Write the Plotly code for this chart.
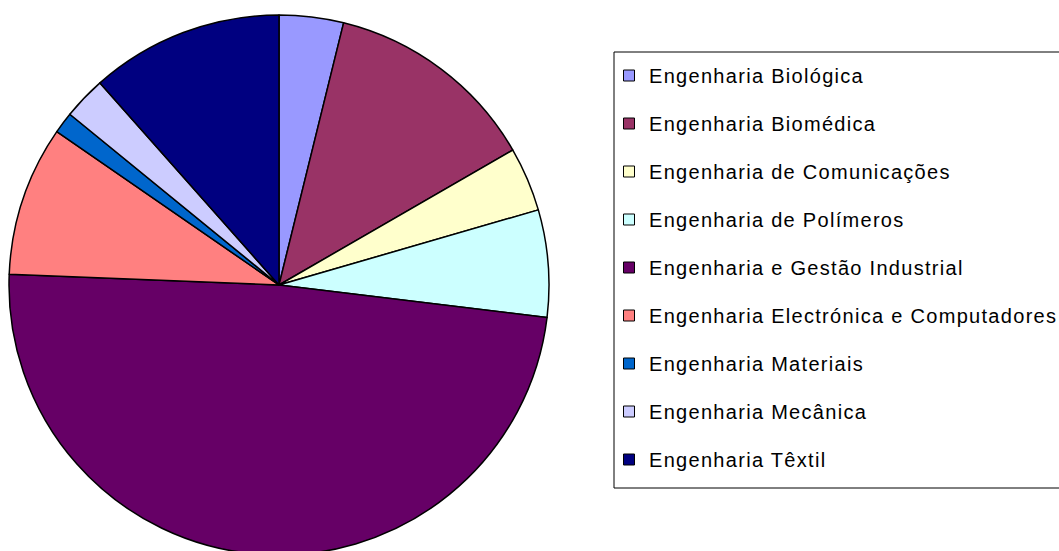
import plotly.graph_objects as go

labels = [
    "Engenharia Biológica",
    "Engenharia Biomédica",
    "Engenharia de Comunicações",
    "Engenharia de Polímeros",
    "Engenharia e Gestão Industrial",
    "Engenharia Electrónica e Computadores",
    "Engenharia Materiais",
    "Engenharia Mecânica",
    "Engenharia Têxtil",
]
values = [3, 10, 3, 5, 38, 7, 1, 2, 9]
colors = ["#9999FF", "#993366", "#FFFFCC", "#CCFFFF", "#660066",
          "#FF8080", "#0066CC", "#CCCCFF", "#000080"]

W, H = 1059, 560
FONT = "Liberation Sans, Arial, sans-serif"

fig = go.Figure()
fig.add_trace(go.Pie(
    labels=labels, values=values, sort=False, direction="clockwise", rotation=0,
    marker=dict(colors=colors, line=dict(color="black", width=1.5)),
    textinfo="none", showlegend=False,
    domain=dict(x=[9 / W, 549 / W], y=[(H - 555) / H, (H - 15) / H]),
))
for i, (lab, col) in enumerate(zip(labels, colors)):
    fig.add_trace(go.Scatter(
        x=[None], y=[None], mode="markers", name=lab, legendgroup=str(i),
        marker=dict(symbol="square", size=11, color=col, line=dict(color="black", width=1)),
    ))

fig.add_shape(type="rect", xref="paper", yref="paper",
              x0=614 / W, x1=1.02, y0=1 - 488 / H, y1=1 - 52 / H,
              line=dict(color="black", width=1), fillcolor="rgba(0,0,0,0)", layer="below")

fig.update_layout(
    width=W, height=H,
    margin=dict(l=0, r=0, t=0, b=0),
    paper_bgcolor="white", plot_bgcolor="white",
    font=dict(family=FONT, size=20, color="black"),
    xaxis=dict(visible=False), yaxis=dict(visible=False),
    legend=dict(x=609 / W, xanchor="left", y=1 - 56 / H, yanchor="top",
                traceorder="grouped", tracegroupgap=19,
                bgcolor="rgba(0,0,0,0)", borderwidth=0,
                font=dict(family=FONT, size=20, color="black")),
)

post = """
document.documentElement.style.overflow='hidden';
document.body.style.overflow='hidden';
document.body.style.margin='0';
var st=document.createElement('style');
st.textContent='.legendtext{letter-spacing:1.3px;} .legend .scrollbox{clip-path:none !important;}';
document.head.appendChild(st);
"""
fig.write_html("out.html", post_script=post, config={"displayModeBar": False})
